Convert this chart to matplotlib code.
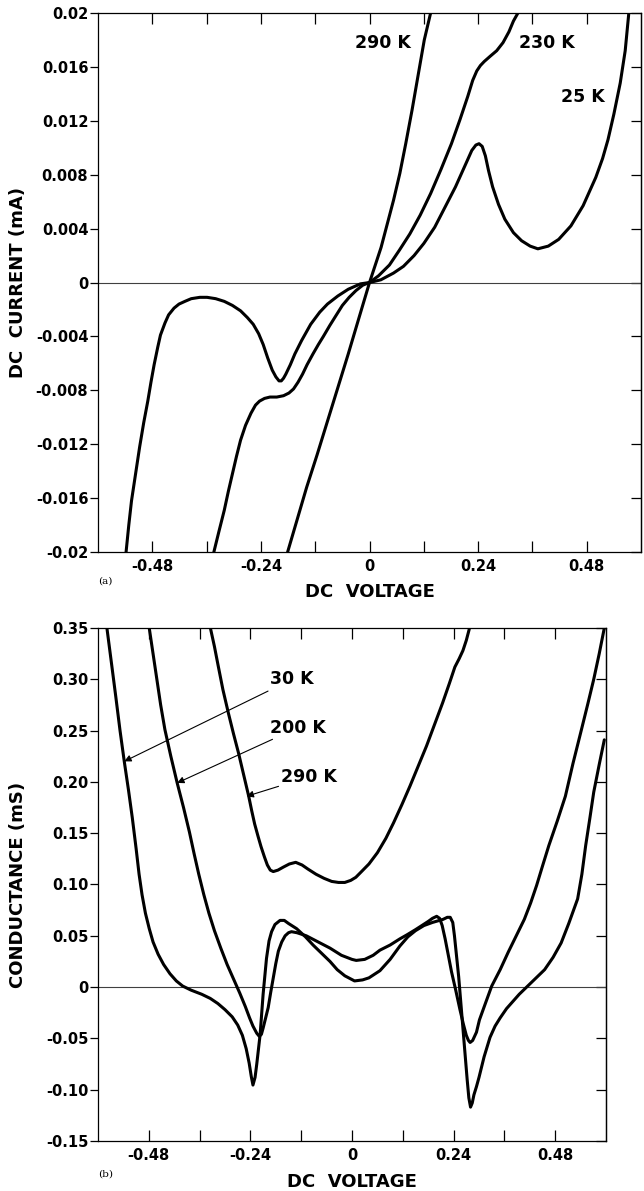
import numpy as np
import matplotlib
matplotlib.use('Agg')
import matplotlib.pyplot as plt

# ---- panel (a): DC current (mA) vs DC voltage ----
v_290 = [-0.181, -0.16, -0.139, -0.116, -0.093, -0.07, -0.047, -0.024, 0.0, 0.0255,
         0.053, 0.067, 0.080, 0.094, 0.108, 0.121, 0.135]
i_290 = [-0.020, -0.0176, -0.0152, -0.0128, -0.0103, -0.0078, -0.0053, -0.0027, 0.0, 0.0026,
         0.0061, 0.0081, 0.0103, 0.0128, 0.0155, 0.018, 0.020]

v_230 = [-0.344, -0.333, -0.321, -0.312, -0.303, -0.294, -0.285, -0.274, -0.262, -0.252,
         -0.243, -0.232, -0.22, -0.205, -0.19, -0.178, -0.168, -0.158, -0.148, -0.138,
         -0.125, -0.113, -0.102, -0.088, -0.075, -0.06, -0.045, -0.03, -0.015, 0.0,
         0.02, 0.044, 0.066, 0.089, 0.112, 0.135, 0.158, 0.181, 0.2, 0.217,
         0.228, 0.237, 0.245, 0.2535, 0.267, 0.281, 0.295, 0.308, 0.318, 0.328]
i_230 = [-0.020, -0.0185, -0.0169, -0.0155, -0.0142, -0.0129, -0.0117, -0.0106, -0.0097, -0.0091,
         -0.0088, -0.0086, -0.0085, -0.0085, -0.0084, -0.0082, -0.0079, -0.0074, -0.0068, -0.0061,
         -0.0053, -0.0046, -0.0040, -0.0032, -0.0025, -0.0017, -0.0011, -0.0006, -0.0002, 0.0,
         0.0005, 0.0013, 0.0024, 0.0036, 0.0050, 0.0066, 0.0084, 0.0103, 0.0121, 0.0138,
         0.0150, 0.0157, 0.0161, 0.0164, 0.0168, 0.0172, 0.0178, 0.0186, 0.0194, 0.020]

v_25 = [-0.538, -0.532, -0.526, -0.517, -0.508, -0.499, -0.49, -0.483, -0.476, -0.468,
        -0.462, -0.452, -0.444, -0.432, -0.421, -0.408, -0.394, -0.375, -0.359, -0.34,
        -0.321, -0.303, -0.285, -0.27, -0.257, -0.245, -0.235, -0.225, -0.215, -0.207,
        -0.2, -0.195, -0.19, -0.185, -0.175, -0.165, -0.15, -0.13, -0.11, -0.093,
        -0.07, -0.047, -0.02, 0.0, 0.025, 0.053, 0.075, 0.0985, 0.12, 0.144,
        0.167, 0.19, 0.21, 0.226, 0.235, 0.242, 0.249, 0.256, 0.263, 0.272,
        0.285, 0.299, 0.318, 0.336, 0.355, 0.372, 0.395, 0.418, 0.445, 0.472,
        0.5, 0.515, 0.527, 0.54, 0.554, 0.565, 0.573]
i_25 = [-0.020, -0.018, -0.0162, -0.0142, -0.0122, -0.0104, -0.0088, -0.0074, -0.0061, -0.0048,
        -0.0039, -0.0030, -0.0024, -0.0019, -0.0016, -0.0014, -0.0012, -0.0011, -0.0011, -0.0012,
        -0.0014, -0.0017, -0.0021, -0.0026, -0.0031, -0.0038, -0.0046, -0.0056, -0.0065, -0.0070,
        -0.0073, -0.0073, -0.0071, -0.0068, -0.0061, -0.0053, -0.0043, -0.0031, -0.0022, -0.0016,
        -0.0010, -0.0005, -0.0001, 0.0, 0.0002, 0.0007, 0.0012, 0.0020, 0.0029, 0.0041,
        0.0056, 0.0071, 0.0086, 0.0098, 0.0102, 0.0103, 0.0101, 0.0094, 0.0083, 0.0071,
        0.0058, 0.0047, 0.0037, 0.0031, 0.0027, 0.0025, 0.0027, 0.0032, 0.0042, 0.0057,
        0.0078, 0.0092, 0.0106, 0.0125, 0.0148, 0.0172, 0.020]

# ---- panel (b): conductance (mS) vs DC voltage ----
vb_30 = [-0.579, -0.568, -0.558, -0.548, -0.538, -0.528, -0.519, -0.51, -0.503, -0.496,
         -0.488, -0.479, -0.47, -0.458, -0.445, -0.43, -0.415, -0.4, -0.38, -0.355,
         -0.335, -0.317, -0.3, -0.283, -0.27, -0.259, -0.25, -0.243, -0.238, -0.234,
         -0.229, -0.225, -0.217, -0.21, -0.202, -0.196, -0.19, -0.182, -0.17, -0.16,
         -0.15, -0.131, -0.11, -0.092, -0.072, -0.052, -0.035, -0.017, 0.006, 0.025,
         0.04, 0.066, 0.09, 0.113, 0.132, 0.15, 0.17, 0.19, 0.215, 0.225,
         0.232, 0.238, 0.242, 0.247, 0.252, 0.257, 0.262, 0.267, 0.272, 0.276,
         0.28, 0.284, 0.288, 0.294, 0.30, 0.312, 0.326, 0.338, 0.35, 0.365,
         0.38, 0.395, 0.41, 0.43, 0.455, 0.475, 0.494, 0.512, 0.533, 0.543,
         0.552, 0.562, 0.571, 0.584, 0.596]
gb_30 = [0.35, 0.315, 0.283, 0.25, 0.22, 0.192, 0.165, 0.135, 0.11, 0.09,
         0.072, 0.057, 0.044, 0.032, 0.022, 0.013, 0.006, 0.001, -0.003, -0.007,
         -0.011, -0.016, -0.022, -0.029, -0.037, -0.047, -0.06, -0.074, -0.087, -0.0955,
         -0.088, -0.075, -0.046, -0.007, 0.028, 0.045, 0.054, 0.061, 0.065, 0.065,
         0.062, 0.057, 0.049, 0.041, 0.033, 0.025, 0.017, 0.011, 0.006, 0.007,
         0.009, 0.016, 0.027, 0.040, 0.049, 0.055, 0.060, 0.063, 0.066, 0.068,
         0.068, 0.063, 0.05, 0.03, 0.01, -0.015, -0.04, -0.065, -0.09, -0.108,
         -0.117, -0.113, -0.105, -0.097, -0.088, -0.068, -0.049, -0.038, -0.030, -0.021,
         -0.014, -0.007, -0.001, 0.007, 0.017, 0.029, 0.043, 0.062, 0.086, 0.11,
         0.138, 0.165, 0.19, 0.217, 0.241]

vb_200 = [-0.479, -0.47, -0.461, -0.452, -0.442, -0.428, -0.413, -0.398, -0.384, -0.373,
          -0.362, -0.35, -0.338, -0.325, -0.31, -0.295, -0.28, -0.265, -0.252, -0.242,
          -0.234, -0.225, -0.219, -0.214, -0.21, -0.204, -0.198, -0.192, -0.186, -0.18,
          -0.174, -0.166, -0.158, -0.15, -0.143, -0.13, -0.108, -0.08, -0.052, -0.025,
          0.0, 0.01, 0.03, 0.05, 0.066, 0.09, 0.113, 0.13, 0.15, 0.165,
          0.18, 0.19, 0.2, 0.207, 0.213, 0.22, 0.228, 0.235, 0.245, 0.255,
          0.263, 0.27, 0.275, 0.279, 0.285, 0.294, 0.301, 0.315, 0.33, 0.35,
          0.369, 0.388, 0.407, 0.422, 0.436, 0.45, 0.465, 0.485, 0.504, 0.522,
          0.542, 0.557, 0.571, 0.584, 0.596]
gb_200 = [0.35, 0.325, 0.30, 0.275, 0.251, 0.225, 0.199, 0.175, 0.151, 0.13,
          0.11, 0.09, 0.072, 0.055, 0.038, 0.022, 0.008, -0.006, -0.019, -0.03,
          -0.038, -0.045, -0.048, -0.046, -0.040, -0.030, -0.020, -0.005, 0.009, 0.023,
          0.035, 0.044, 0.050, 0.053, 0.054, 0.053, 0.050, 0.044, 0.038, 0.031,
          0.027, 0.026, 0.027, 0.031, 0.036, 0.041, 0.047, 0.051, 0.056, 0.060,
          0.064, 0.067, 0.069, 0.067, 0.060, 0.047, 0.030, 0.015, -0.003, -0.022,
          -0.036, -0.047, -0.052, -0.054, -0.052, -0.044, -0.032, -0.016, 0.001, 0.017,
          0.034, 0.050, 0.066, 0.082, 0.099, 0.118, 0.138, 0.162, 0.186, 0.218,
          0.251, 0.276, 0.30, 0.325, 0.35]

vb_290 = [-0.334, -0.325, -0.317, -0.305, -0.292, -0.28, -0.268, -0.256, -0.244, -0.237,
          -0.23, -0.222, -0.215, -0.207, -0.2, -0.193, -0.186, -0.175, -0.162, -0.148,
          -0.133, -0.118, -0.104, -0.085, -0.066, -0.048, -0.032, -0.017, -0.003, 0.009,
          0.021, 0.04, 0.06, 0.08, 0.098, 0.118, 0.137, 0.157, 0.176, 0.195,
          0.214, 0.23, 0.243, 0.253, 0.262, 0.27, 0.277]
gb_290 = [0.349, 0.332, 0.315, 0.29, 0.267, 0.247, 0.228, 0.207, 0.186, 0.172,
          0.159, 0.147, 0.137, 0.127, 0.119, 0.114, 0.1126, 0.114, 0.117, 0.120,
          0.1216, 0.119, 0.115, 0.110, 0.106, 0.103, 0.102, 0.102, 0.104, 0.107,
          0.112, 0.12, 0.131, 0.145, 0.160, 0.178, 0.196, 0.216, 0.235, 0.256,
          0.277, 0.296, 0.312, 0.32, 0.328, 0.338, 0.349]

xtick_pos = [-0.48, -0.36, -0.24, -0.12, 0, 0.12, 0.24, 0.36, 0.48]
xtick_lab = ['-0.48', '', '-0.24', '', '0', '', '0.24', '', '0.48']
ya_ticks = [0.02, 0.016, 0.012, 0.008, 0.004, 0, -0.004, -0.008, -0.012, -0.016, -0.02]
ya_labels = ['0.02', '0.016', '0.012', '0.008', '0.004', '0', '-0.004', '-0.008', '-0.012', '-0.016', '-0.02']
yb_ticks = [0.35, 0.30, 0.25, 0.20, 0.15, 0.10, 0.05, 0, -0.05, -0.10, -0.15]
yb_labels = ['0.35', '0.30', '0.25', '0.20', '0.15', '0.10', '0.05', '0', '-0.05', '-0.10', '-0.15']

plt.rcParams['font.family'] = 'DejaVu Sans'
plt.rcParams['font.weight'] = 'bold'

fig = plt.figure(figsize=(6.44, 11.91), dpi=100)
ax1 = fig.add_axes([0.1522, 0.5365, 0.8432, 0.4526])
ax2 = fig.add_axes([0.1522, 0.0420, 0.7888, 0.4307])

line_kw = dict(color='black', lw=2.2, solid_joinstyle='round', solid_capstyle='round')


def style(ax, yt, yl, ylabel):
    ax.set_xlim(-0.6, 0.6)
    ax.axhline(0, color='0.25', lw=0.8, zorder=1)
    for s in ax.spines.values():
        s.set_linewidth(0.9)
    ax.set_xticks(xtick_pos)
    ax.set_xticklabels(xtick_lab, fontsize=10.5, fontweight='bold')
    ax.set_yticks(yt)
    ax.set_yticklabels(yl, fontsize=10.5, fontweight='bold')
    ax.tick_params(axis='x', direction='in', top=True, length=8, width=0.9, pad=5)
    ax.tick_params(axis='y', direction='out', length=6, width=0.9, pad=1)
    sec = ax.secondary_yaxis('right')
    sec.set_yticks(yt)
    sec.tick_params(direction='in', length=7, width=0.9, labelright=False)
    sec.spines['right'].set_linewidth(0.9)
    ax.set_ylabel(ylabel, fontsize=13, fontweight='bold')
    ax.set_xlabel('DC  VOLTAGE', fontsize=13, fontweight='bold')


ax1.plot(v_290, i_290, **line_kw)
ax1.plot(v_230, i_230, **line_kw)
ax1.plot(v_25, i_25, **line_kw)
ax1.set_ylim(-0.02, 0.02)
style(ax1, ya_ticks, ya_labels, 'DC  CURRENT (mA)')
ax1.yaxis.set_label_coords(-0.131, 0.5)
ax1.xaxis.set_label_coords(0.5, -0.058)
ax1.text(0.03, 0.0178, '290 K', fontsize=12.5, fontweight='bold', ha='center', va='center')
ax1.text(0.391, 0.0178, '230 K', fontsize=12.5, fontweight='bold', ha='center', va='center')
ax1.text(0.472, 0.0138, '25 K', fontsize=12.5, fontweight='bold', ha='center', va='center')
ax1.text(-0.6, -0.0218, '(a)', fontsize=7.5, family='DejaVu Serif', fontweight='normal',
         ha='left', va='top')

ax2.plot(vb_30, gb_30, **line_kw)
ax2.plot(vb_200, gb_200, **line_kw)
ax2.plot(vb_290, gb_290, **line_kw)
ax2.set_ylim(-0.15, 0.35)
style(ax2, yb_ticks, yb_labels, 'CONDUCTANCE (mS)')
ax2.yaxis.set_label_coords(-0.14, 0.5)
ax2.xaxis.set_label_coords(0.5, -0.062)
arrow = dict(arrowstyle='-|>', color='black', lw=0.8, mutation_scale=10, shrinkA=0, shrinkB=0)
ax2.annotate('30 K', xy=(-0.538, 0.22), xytext=(-0.193, 0.30), fontsize=12.5, fontweight='bold',
             ha='left', va='center', arrowprops=arrow)
ax2.annotate('200 K', xy=(-0.413, 0.199), xytext=(-0.193, 0.253), fontsize=12.5, fontweight='bold',
             ha='left', va='center', arrowprops=arrow)
ax2.annotate('290 K', xy=(-0.249, 0.186), xytext=(-0.167, 0.205), fontsize=12.5, fontweight='bold',
             ha='left', va='center', arrowprops=arrow)
ax2.text(-0.6, -0.178, '(b)', fontsize=7.5, family='DejaVu Serif', fontweight='normal',
         ha='left', va='top')

fig.savefig('out.png', dpi=100)
